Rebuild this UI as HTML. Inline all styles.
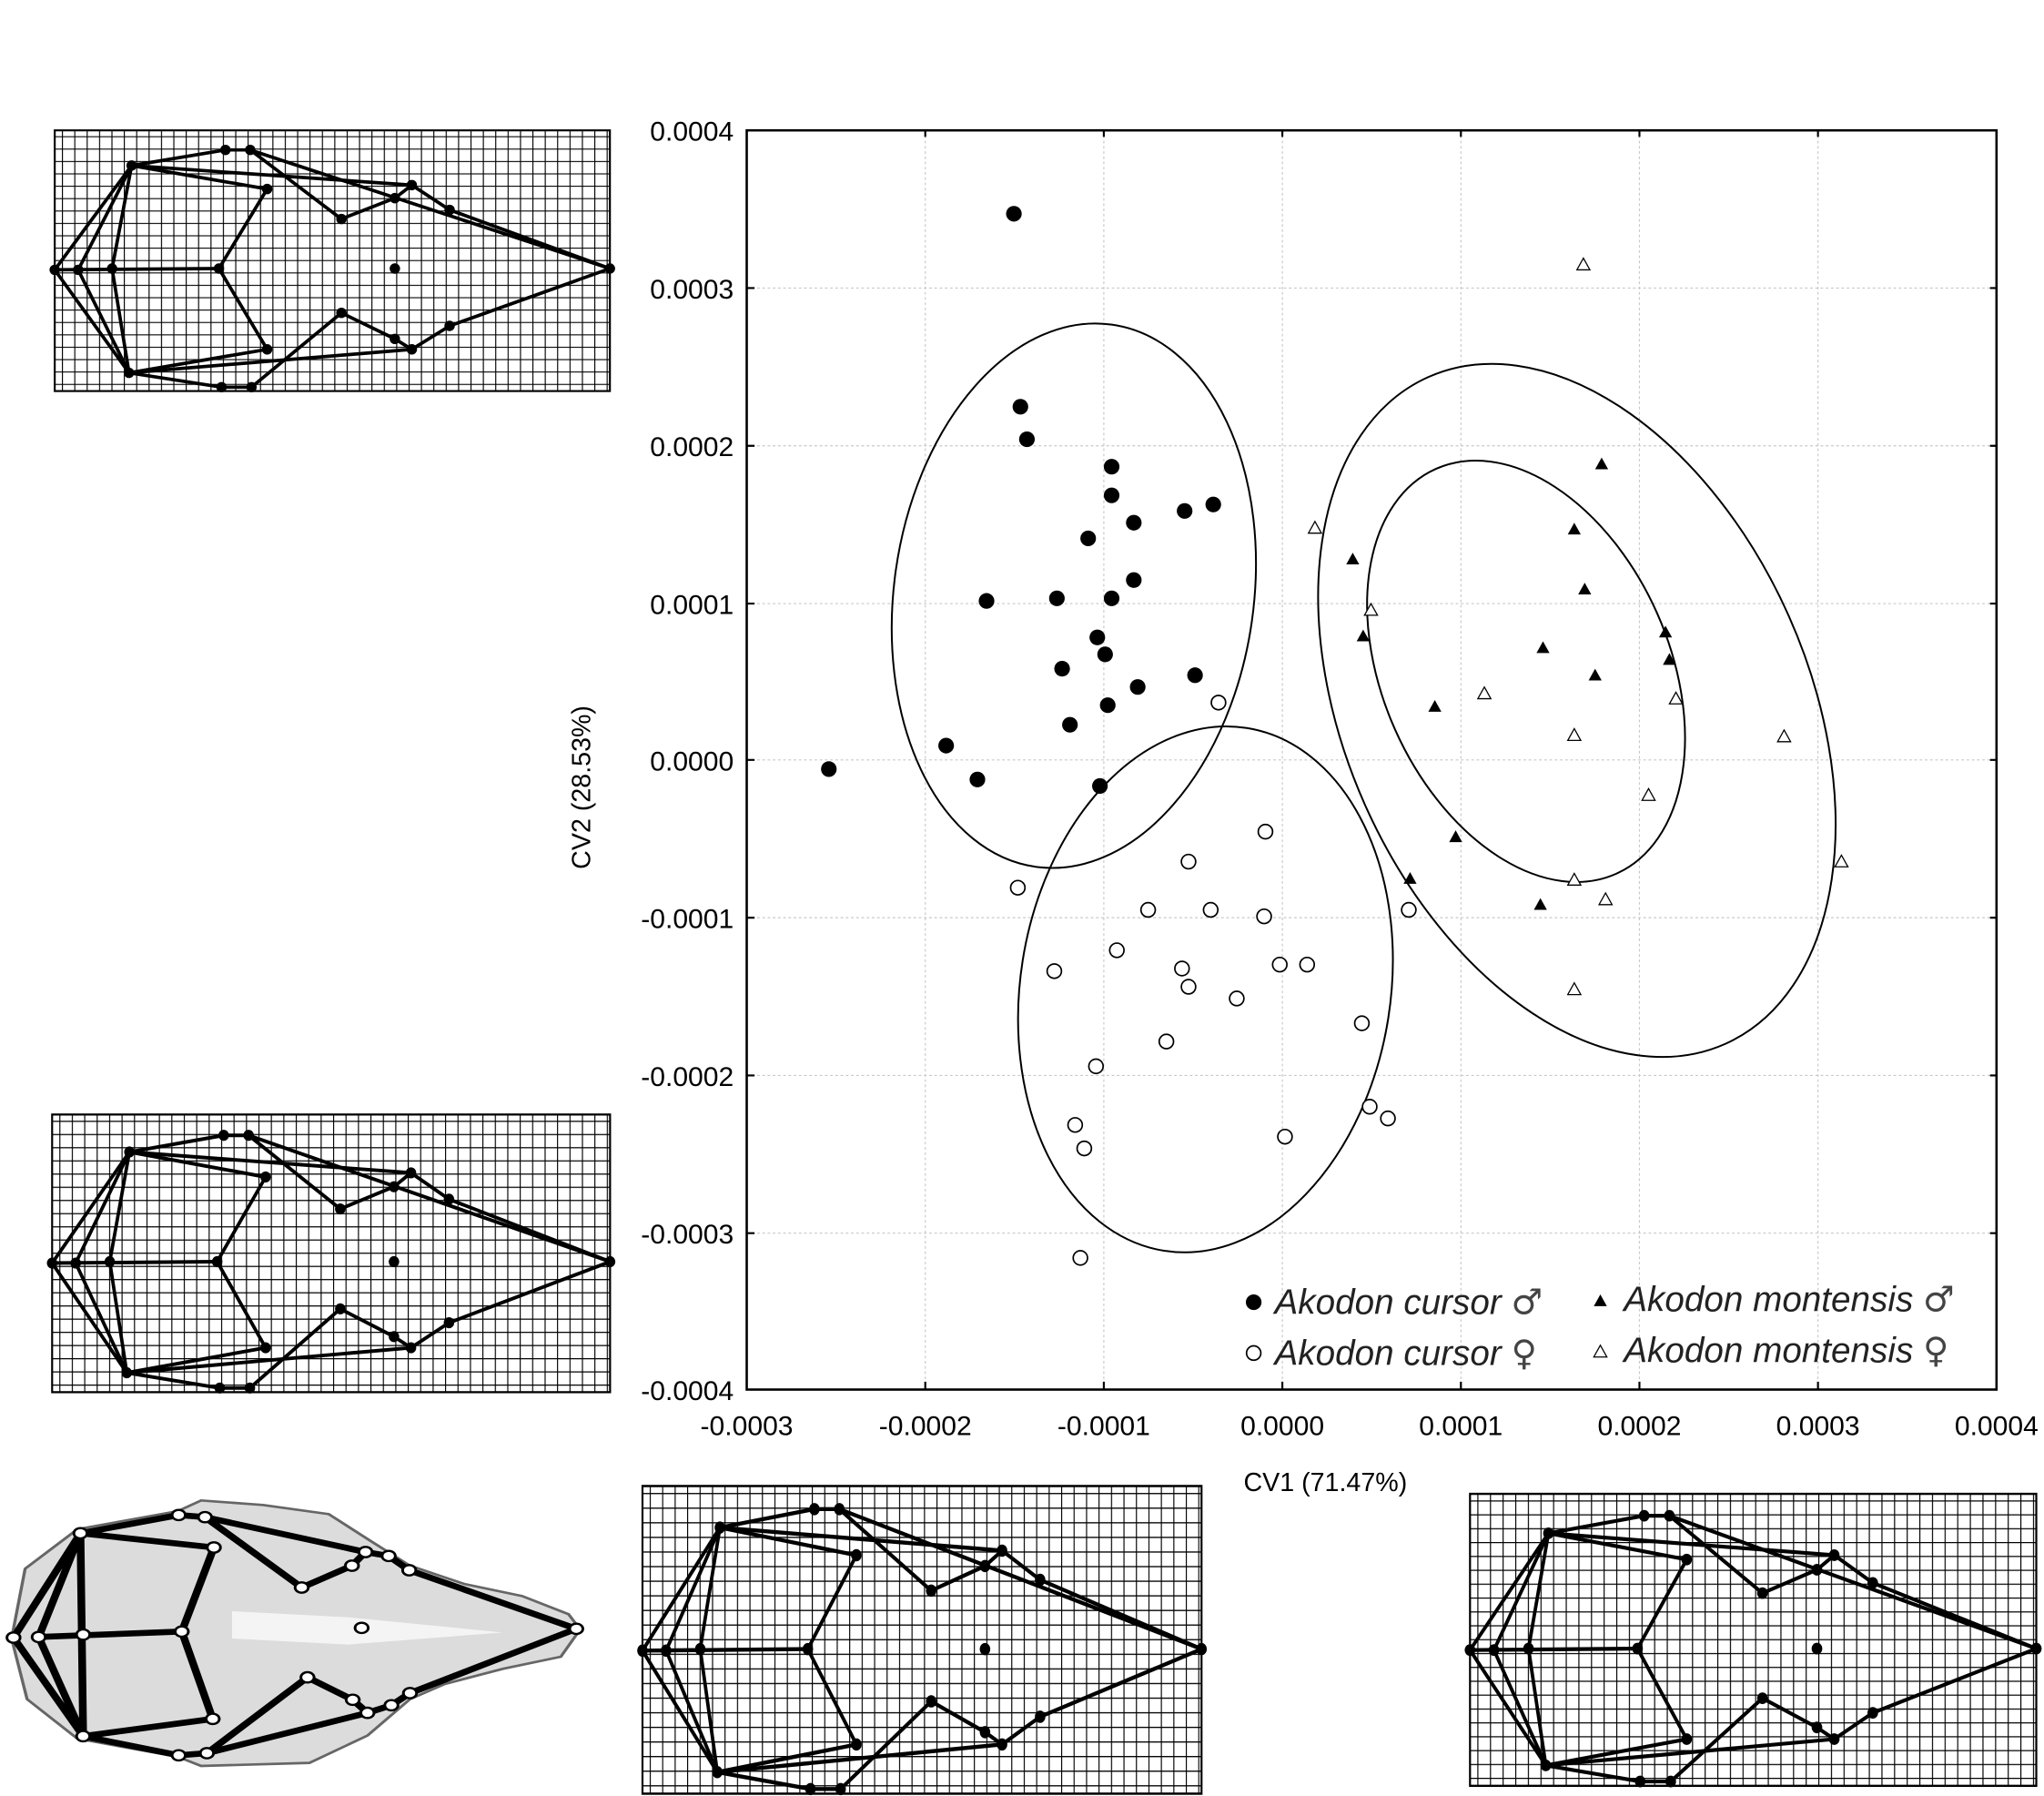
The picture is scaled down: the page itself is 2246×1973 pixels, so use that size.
<!DOCTYPE html>
<html><head><meta charset="utf-8"><style>html,body{margin:0;padding:0;background:#fff}svg{display:block}</style></head>
<body>
<svg width="2246" height="1973" viewBox="0 0 2246 1973" xmlns="http://www.w3.org/2000/svg">
<defs>
<pattern id="gp" width="9.5" height="9.5" patternUnits="userSpaceOnUse">
<path d="M0 0H9.5M0 0V9.5" stroke="#000" stroke-width="1.6" fill="none"/>
</pattern>
<g id="wf" stroke="#000" stroke-width="2.6" fill="none">
<path d="M42 207L101 127L173 115L192 115L468 206L345 250L316 268L99 286L42 207"/>
<path d="M60 207L101 127M60 207L99 286M86 206L101 127M86 206L99 286M42 207L168 206"/>
<path d="M101 127L316 142L345 161L468 206M170 297L193 297L262 240L303 260L316 268M99 286L170 297M192 115L262 168L303 152L316 142"/>
<path d="M101 127L205 145L168 206L205 268L99 286"/>
</g>
<g id="wfp" fill="#000">
<circle cx="42" cy="207" r="4"/><circle cx="60" cy="207" r="4"/><circle cx="86" cy="206" r="4"/><circle cx="168" cy="206" r="4"/><circle cx="303" cy="206" r="4"/><circle cx="468" cy="206" r="4"/>
<circle cx="101" cy="127" r="4"/><circle cx="99" cy="286" r="4"/><circle cx="173" cy="115" r="4"/><circle cx="192" cy="115" r="4"/><circle cx="170" cy="297" r="4"/><circle cx="193" cy="297" r="4"/>
<circle cx="205" cy="145" r="4"/><circle cx="205" cy="268" r="4"/><circle cx="262" cy="168" r="4"/><circle cx="262" cy="240" r="4"/><circle cx="303" cy="152" r="4"/><circle cx="316" cy="142" r="4"/><circle cx="345" cy="161" r="4"/><circle cx="303" cy="260" r="4"/><circle cx="316" cy="268" r="4"/><circle cx="345" cy="250" r="4"/>
</g>
<g id="gridunit">
<rect x="42" y="100" width="426" height="200" fill="url(#gp)" stroke="#000" stroke-width="1.5"/>
<use href="#wf"/><use href="#wfp"/>
</g>
</defs>
<g transform="scale(1.432)">
<use href="#gridunit"/>
<use href="#gridunit" transform="translate(40,855) scale(1.005,1.065) translate(-42,-100)"/>
<use href="#gridunit" transform="translate(493,1140) scale(1.007,1.18) translate(-42,-100)"/>
<use href="#gridunit" transform="translate(1128,1146) scale(1.02,1.12) translate(-42,-100)"/>

<g stroke="#c8c8c8" stroke-width="0.8" stroke-dasharray="2,2">
<path d="M710 100V1066M847 100V1066M984 100V1066M1121 100V1066M1258 100V1066M1395 100V1066"/>
<path d="M573 221H1532M573 342H1532M573 463H1532M573 583H1532M573 704H1532M573 825H1532M573 946H1532"/>
</g>
<rect x="573" y="100" width="959" height="966" fill="none" stroke="#000" stroke-width="1.8"/>
<g stroke="#000" stroke-width="1.5">
<path d="M710 1066v-6M847 1066v-6M984 1066v-6M1121 1066v-6M1258 1066v-6M1395 1066v-6M573 221h6M573 342h6M573 463h6M573 583h6M573 704h6M573 825h6M573 946h6"/>
<path d="M710 100v5M847 100v5M984 100v5M1121 100v5M1258 100v5M1395 100v5M1532 221h-5M1532 342h-5M1532 463h-5M1532 583h-5M1532 704h-5M1532 825h-5M1532 946h-5"/>
</g>
<g font-family="Liberation Sans, sans-serif" font-size="21" fill="#000">
<g text-anchor="end">
<text x="563" y="108">0.0004</text><text x="563" y="229">0.0003</text><text x="563" y="350">0.0002</text><text x="563" y="471">0.0001</text><text x="563" y="591">0.0000</text><text x="563" y="712">-0.0001</text><text x="563" y="833">-0.0002</text><text x="563" y="954">-0.0003</text><text x="563" y="1074">-0.0004</text>
</g>
<g text-anchor="middle">
<text x="573" y="1101">-0.0003</text><text x="710" y="1101">-0.0002</text><text x="847" y="1101">-0.0001</text><text x="984" y="1101">0.0000</text><text x="1121" y="1101">0.0001</text><text x="1258" y="1101">0.0002</text><text x="1395" y="1101">0.0003</text><text x="1532" y="1101">0.0004</text>
</g>
<g text-anchor="middle" font-size="20">
<text x="1017" y="1144">CV1 (71.47%)</text>
<text transform="translate(453,604) rotate(-90)">CV2 (28.53%)</text>
</g>
</g>

<g fill="none" stroke="#000" stroke-width="1.4">
<ellipse cx="824" cy="457" rx="138" ry="210" transform="rotate(8 824 457)"/>
<ellipse cx="925" cy="759" rx="142" ry="203" transform="rotate(9 925 759)"/>
<ellipse cx="1210" cy="545" rx="178" ry="280" transform="rotate(-24 1210 545)"/>
<ellipse cx="1171" cy="515" rx="110" ry="170" transform="rotate(-24 1171 515)"/>
</g>

<g fill="#000">
<circle cx="778" cy="164" r="6"/><circle cx="783" cy="312" r="6"/><circle cx="788" cy="337" r="6"/><circle cx="853" cy="358" r="6"/><circle cx="853" cy="380" r="6"/><circle cx="835" cy="413" r="6"/><circle cx="870" cy="401" r="6"/><circle cx="909" cy="392" r="6"/><circle cx="931" cy="387" r="6"/><circle cx="757" cy="461" r="6"/><circle cx="811" cy="459" r="6"/><circle cx="853" cy="459" r="6"/><circle cx="870" cy="445" r="6"/><circle cx="842" cy="489" r="6"/><circle cx="848" cy="502" r="6"/><circle cx="815" cy="513" r="6"/><circle cx="873" cy="527" r="6"/><circle cx="917" cy="518" r="6"/><circle cx="850" cy="541" r="6"/><circle cx="821" cy="556" r="6"/><circle cx="726" cy="572" r="6"/><circle cx="750" cy="598" r="6"/><circle cx="844" cy="603" r="6"/><circle cx="636" cy="590" r="6"/>
</g>
<g fill="#fff" stroke="#000" stroke-width="1.2">
<circle cx="935" cy="539" r="5.5"/><circle cx="781" cy="681" r="5.5"/><circle cx="971" cy="638" r="5.5"/><circle cx="912" cy="661" r="5.5"/><circle cx="881" cy="698" r="5.5"/><circle cx="929" cy="698" r="5.5"/><circle cx="970" cy="703" r="5.5"/><circle cx="857" cy="729" r="5.5"/><circle cx="809" cy="745" r="5.5"/><circle cx="907" cy="743" r="5.5"/><circle cx="912" cy="757" r="5.5"/><circle cx="982" cy="740" r="5.5"/><circle cx="1003" cy="740" r="5.5"/><circle cx="949" cy="766" r="5.5"/><circle cx="895" cy="799" r="5.5"/><circle cx="841" cy="818" r="5.5"/><circle cx="1045" cy="785" r="5.5"/><circle cx="1051" cy="849" r="5.5"/><circle cx="1065" cy="858" r="5.5"/><circle cx="825" cy="863" r="5.5"/><circle cx="832" cy="881" r="5.5"/><circle cx="986" cy="872" r="5.5"/><circle cx="829" cy="965" r="5.5"/><circle cx="1081" cy="698" r="5.5"/>
</g>
<g fill="#000">
<path d="M1229 351l5 9h-10z M1038 424l5 9h-10z M1208 401l5 9h-10z M1216 447l5 9h-10z M1046 483l5 9h-10z M1184 492l5 9h-10z M1224 513l5 9h-10z M1278 480l5 9h-10z M1281 501l5 9h-10z M1101 537l5 9h-10z M1117 637l5 9h-10z M1082 669l5 9h-10z M1182 689l5 9h-10z"/>
</g>
<g fill="#fff" stroke="#000" stroke-width="0.9">
<path d="M1215 198l5 9h-10z M1009 400l5 9h-10z M1052 463l5 9h-10z M1139 527l5 9h-10z M1286 531l5 9h-10z M1208 559l5 9h-10z M1369 560l5 9h-10z M1265 605l5 9h-10z M1413 656l5 9h-10z M1208 670l5 9h-10z M1232 685l5 9h-10z M1208 754l5 9h-10z"/>
</g>

<circle cx="962" cy="999" r="6" fill="#000"/>
<circle cx="962" cy="1038" r="5.5" fill="#fff" stroke="#000" stroke-width="1.2"/>
<path d="M1228 993l5 9h-10z" fill="#000"/>
<path d="M1228 1032l5 9h-10z" fill="#fff" stroke="#000" stroke-width="0.9"/>
<g font-family="Liberation Sans, DejaVu Sans, sans-serif" font-size="27" font-style="italic" fill="#222">
<text x="978" y="1008">Akodon cursor <tspan font-style="normal" font-family="DejaVu Sans, sans-serif" fill="#444">♂</tspan></text>
<text x="978" y="1047">Akodon cursor <tspan font-style="normal" font-family="DejaVu Sans, sans-serif" fill="#444">♀</tspan></text>
<text x="1246" y="1006">Akodon montensis <tspan font-style="normal" font-family="DejaVu Sans, sans-serif" fill="#444">♂</tspan></text>
<text x="1246" y="1045">Akodon montensis <tspan font-style="normal" font-family="DejaVu Sans, sans-serif" fill="#444">♀</tspan></text>
</g>
</g>

<g transform="translate(0,1620) scale(0.425,0.3333)">
<path d="M65 310L200 180L460 120L520 85L680 100L850 130L960 220L1060 300L1200 360L1350 400L1470 460L1500 510L1450 600L1300 640L1150 690L1060 740L950 860L800 950L520 960L460 930L200 870L70 740L30 540Z" fill="#dcdcdc" stroke="#666" stroke-width="8"/>
<path d="M600 450L900 470L1300 520L900 560L600 540Z" fill="#f4f4f4"/>
<g stroke="#000" stroke-width="20" fill="none" stroke-linejoin="round">
<path d="M35 537L208 193L462 133L530 140L945 255L1005 268L1058 315L1490 508L1060 720L1012 760L950 785L535 918L462 925L215 862L35 537"/>
<path d="M100 535L208 193M100 535L215 862M208 193L215 862M100 535L470 517"/>
<path d="M208 193L553 240L470 517L550 805L215 862"/>
<path d="M530 140L780 372L910 300L945 255M535 918L795 668L912 742L950 785"/>
</g>
<g fill="#fff" stroke="#000" stroke-width="7">
<circle cx="35" cy="537" r="17"/><circle cx="100" cy="535" r="17"/><circle cx="215" cy="527" r="17"/><circle cx="470" cy="517" r="17"/><circle cx="935" cy="505" r="17"/><circle cx="1490" cy="508" r="17"/>
<circle cx="208" cy="193" r="17"/><circle cx="462" cy="133" r="17"/><circle cx="530" cy="140" r="17"/><circle cx="553" cy="240" r="17"/><circle cx="780" cy="372" r="17"/><circle cx="910" cy="300" r="17"/><circle cx="945" cy="255" r="17"/><circle cx="1005" cy="268" r="17"/><circle cx="1058" cy="315" r="17"/>
<circle cx="215" cy="862" r="17"/><circle cx="462" cy="925" r="17"/><circle cx="535" cy="918" r="17"/><circle cx="550" cy="805" r="17"/><circle cx="795" cy="668" r="17"/><circle cx="912" cy="742" r="17"/><circle cx="950" cy="785" r="17"/><circle cx="1012" cy="760" r="17"/><circle cx="1060" cy="720" r="17"/>
</g>
</g>
</svg>
</body></html>
